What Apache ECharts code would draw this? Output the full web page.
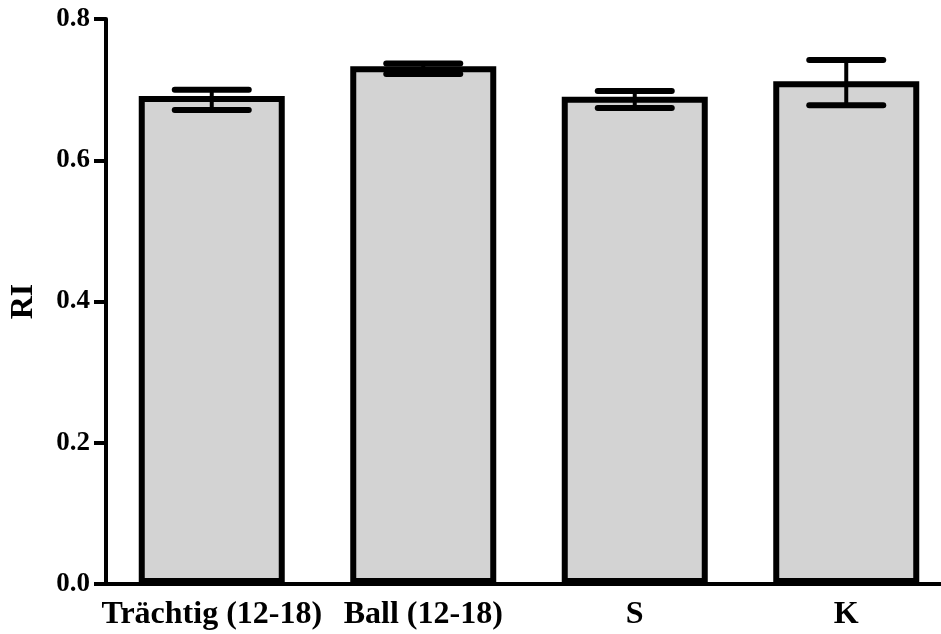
<!DOCTYPE html>
<html>
<head>
<meta charset="utf-8">
<script src="https://cdn.jsdelivr.net/npm/echarts@6/dist/echarts.min.js"></script>
<style>html,body{margin:0;padding:0;background:#fff;overflow:hidden;width:941px;height:634px}#c{width:952px;height:634px}</style>
</head>
<body>
<div id="c"></div>
<script>
var categories = ['Trächtig (12-18)', 'Ball (12-18)', 'S', 'K'];
var means = [0.691, 0.733, 0.690, 0.712];
var errLow = [0.671, 0.722, 0.674, 0.678];
var errHigh = [0.700, 0.737, 0.698, 0.742];
var yTicks = [0.0, 0.2, 0.4, 0.6, 0.8];

var chart = echarts.init(document.getElementById('c'), null, {renderer: 'canvas'});
var font = '"Liberation Serif", "Times New Roman", serif';
var errData = categories.map(function (c, i) { return [i, errLow[i], errHigh[i]]; });

chart.setOption({
  animation: false,
  backgroundColor: '#fff',
  grid: {left: 105, right: 0, top: 19, bottom: 50, containLabel: false},
  xAxis: {
    type: 'category',
    data: categories,
    axisLine: {lineStyle: {color: '#000', width: 4}},
    axisTick: {alignWithLabel: true, length: 12, lineStyle: {color: '#000', width: 4}},
    axisLabel: {color: '#000', fontFamily: font, fontWeight: 'bold', fontSize: 32, margin: 15, interval: 0}
  },
  yAxis: {
    type: 'value',
    min: 0, max: 0.8, interval: 0.2,
    name: 'RI',
    nameLocation: 'middle',
    nameGap: 66,
    nameTextStyle: {color: '#000', fontFamily: font, fontWeight: 'bold', fontSize: 32},
    splitLine: {show: false},
    axisLine: {show: true, lineStyle: {color: '#000', width: 4}},
    axisTick: {show: true, length: 12, lineStyle: {color: '#000', width: 4}},
    axisLabel: {
      color: '#000', fontFamily: font, fontWeight: 'bold', fontSize: 27, margin: 16,
      formatter: function (v) { return v.toFixed(1); }
    }
  },
  series: [
    {
      type: 'bar',
      data: means,
      barWidth: 146,
      itemStyle: {color: '#d3d3d3', borderColor: '#000', borderWidth: 6},
      z: 2
    },
    {
      type: 'custom',
      data: errData,
      z: 5,
      renderItem: function (params, api) {
        var x = api.value(0);
        var lo = api.coord([x, api.value(1)]);
        var hi = api.coord([x, api.value(2)]);
        var hw = 37;
        var st = {stroke: '#000', lineWidth: 6, lineCap: 'round'};
        return {
          type: 'group',
          children: [
            {type: 'line', shape: {x1: lo[0], y1: lo[1], x2: hi[0], y2: hi[1]}, style: {stroke: '#000', lineWidth: 4}},
            {type: 'line', shape: {x1: hi[0] - hw, y1: hi[1], x2: hi[0] + hw, y2: hi[1]}, style: st},
            {type: 'line', shape: {x1: lo[0] - hw, y1: lo[1], x2: lo[0] + hw, y2: lo[1]}, style: st}
          ]
        };
      }
    }
  ]
});
</script>
</body>
</html>
